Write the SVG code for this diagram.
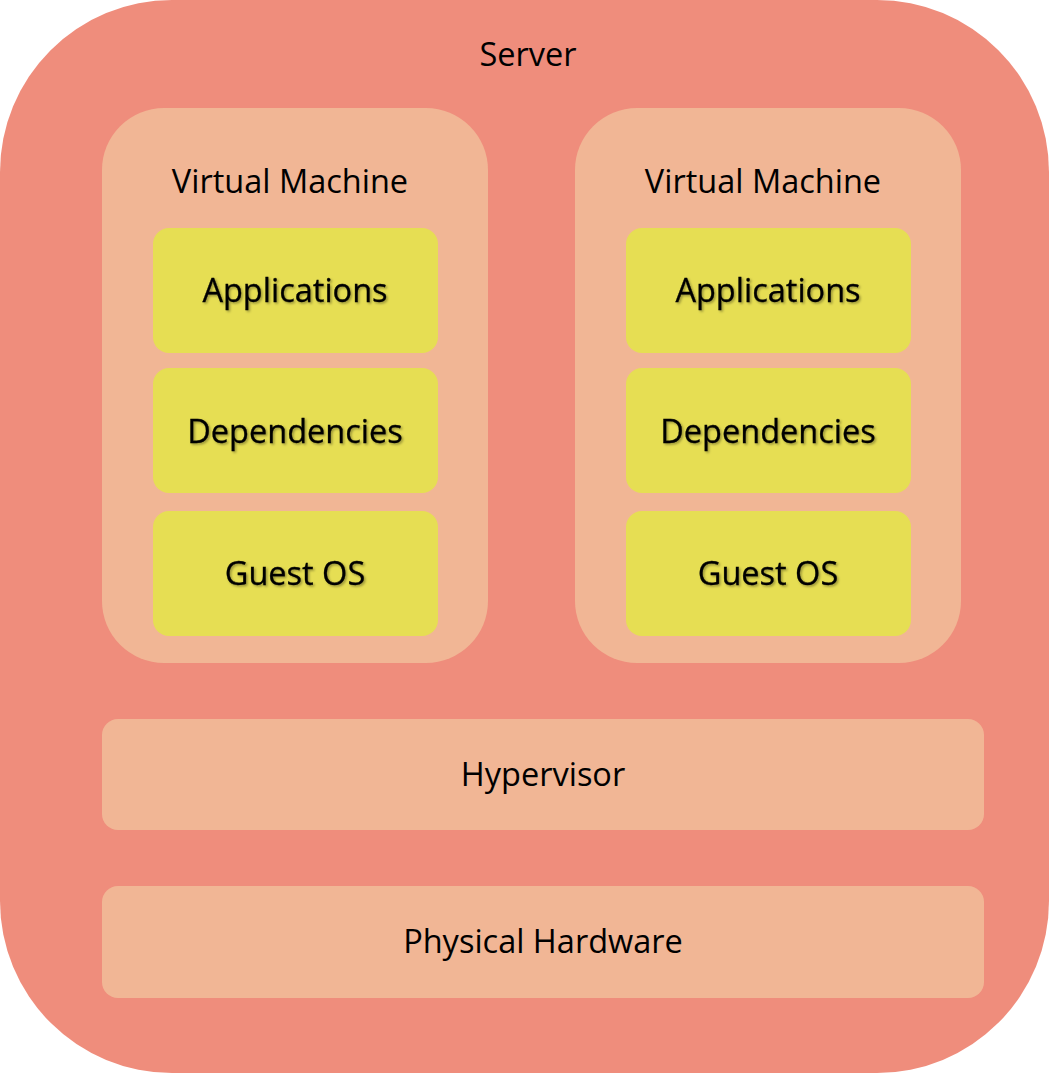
<svg xmlns="http://www.w3.org/2000/svg" width="1049" height="1073" viewBox="0 0 1049 1073">
<defs>
<filter id="sh" x="-10%" y="-30%" width="130%" height="160%">
<feDropShadow dx="1.5" dy="1.5" stdDeviation="1" flood-color="#000" flood-opacity="0.35"/>
</filter>
</defs>
<style>
.server{fill:#EF8D7C}
.vm{fill:#F1B695}
.layer{fill:#E6DE53}
text{font-family:"Open Sans","Liberation Sans",sans-serif;font-size:32.5px;fill:#000;text-anchor:middle}
.lt{font-size:32.5px;stroke:#000;stroke-width:0.3}
</style>
<g id="server">
<rect class="server" x="0" y="0" width="1049" height="1073" rx="172" ry="172"/>
<text x="528" y="66">Server</text>
</g>
<g id="vm1">
<rect class="vm" x="102" y="108" width="386" height="555" rx="62" ry="62"/>
<text x="290" y="193">Virtual Machine</text>
</g>
<g id="vm2">
<rect class="vm" x="575" y="108" width="386" height="555" rx="62" ry="62"/>
<text x="763" y="193">Virtual Machine</text>
</g>
<g id="apps1">
<rect class="layer" x="153" y="228" width="285" height="125" rx="16" ry="16"/>
<text class="lt" x="295" y="302" filter="url(#sh)">Applications</text>
</g>
<g id="deps1">
<rect class="layer" x="153" y="368" width="285" height="125" rx="16" ry="16"/>
<text class="lt" x="295" y="443" filter="url(#sh)">Dependencies</text>
</g>
<g id="os1">
<rect class="layer" x="153" y="511" width="285" height="125" rx="16" ry="16"/>
<text class="lt" x="295" y="585" filter="url(#sh)">Guest OS</text>
</g>
<g id="apps2">
<rect class="layer" x="626" y="228" width="285" height="125" rx="16" ry="16"/>
<text class="lt" x="768" y="302" filter="url(#sh)">Applications</text>
</g>
<g id="deps2">
<rect class="layer" x="626" y="368" width="285" height="125" rx="16" ry="16"/>
<text class="lt" x="768" y="443" filter="url(#sh)">Dependencies</text>
</g>
<g id="os2">
<rect class="layer" x="626" y="511" width="285" height="125" rx="16" ry="16"/>
<text class="lt" x="768" y="585" filter="url(#sh)">Guest OS</text>
</g>
<g id="hypervisor">
<rect class="vm" x="102" y="719" width="882" height="111" rx="16" ry="16"/>
<text x="543" y="786">Hypervisor</text>
</g>
<g id="hardware">
<rect class="vm" x="102" y="886" width="882" height="112" rx="16" ry="16"/>
<text x="543" y="953">Physical Hardware</text>
</g>
<g id="connectors"/>
</svg>
